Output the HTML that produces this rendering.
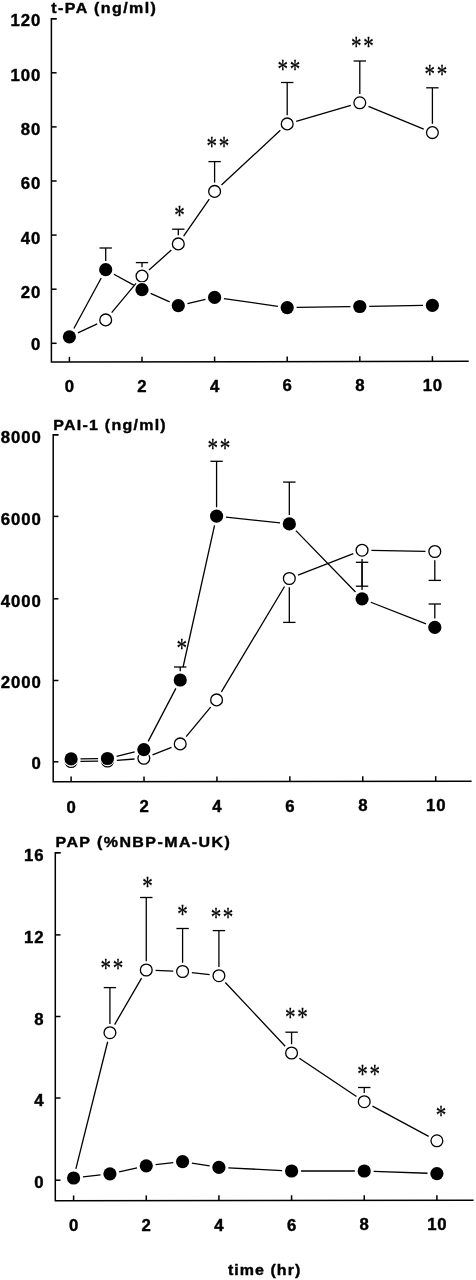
<!DOCTYPE html><html><head><meta charset="utf-8"><title>t-PA, PAI-1 and PAP time course</title><style>html,body{margin:0;padding:0;background:#fff}svg{display:block}</style></head><body>
<svg width="476" height="1280" viewBox="0 0 476 1280">
<rect width="100%" height="100%" fill="#fff"/>
<g>
<path d="M56.60,18.70H51.40V362.10L468.70,361.30" fill="none" stroke="#000" stroke-width="1.5" stroke-linejoin="miter"/>
<line x1="51.40" y1="343.30" x2="56.60" y2="343.30" stroke="#000" stroke-width="1.5"/>
<text transform="translate(41.24,350.40) scale(1.04,1)" font-family='"Liberation Sans", sans-serif' font-size="16.1" font-weight="bold" text-anchor="end" stroke="#000" stroke-width="0.4" letter-spacing="0.9">0</text>
<line x1="51.40" y1="289.20" x2="56.60" y2="289.20" stroke="#000" stroke-width="1.5"/>
<text transform="translate(41.24,297.80) scale(1.04,1)" font-family='"Liberation Sans", sans-serif' font-size="16.1" font-weight="bold" text-anchor="end" stroke="#000" stroke-width="0.4" letter-spacing="0.9">20</text>
<line x1="51.40" y1="235.10" x2="56.60" y2="235.10" stroke="#000" stroke-width="1.5"/>
<text transform="translate(41.24,243.60) scale(1.04,1)" font-family='"Liberation Sans", sans-serif' font-size="16.1" font-weight="bold" text-anchor="end" stroke="#000" stroke-width="0.4" letter-spacing="0.9">40</text>
<line x1="51.40" y1="181.00" x2="56.60" y2="181.00" stroke="#000" stroke-width="1.5"/>
<text transform="translate(41.24,189.10) scale(1.04,1)" font-family='"Liberation Sans", sans-serif' font-size="16.1" font-weight="bold" text-anchor="end" stroke="#000" stroke-width="0.4" letter-spacing="0.9">60</text>
<line x1="51.40" y1="126.90" x2="56.60" y2="126.90" stroke="#000" stroke-width="1.5"/>
<text transform="translate(41.24,135.00) scale(1.04,1)" font-family='"Liberation Sans", sans-serif' font-size="16.1" font-weight="bold" text-anchor="end" stroke="#000" stroke-width="0.4" letter-spacing="0.9">80</text>
<line x1="51.40" y1="72.80" x2="56.60" y2="72.80" stroke="#000" stroke-width="1.5"/>
<text transform="translate(41.24,80.50) scale(1.04,1)" font-family='"Liberation Sans", sans-serif' font-size="16.1" font-weight="bold" text-anchor="end" stroke="#000" stroke-width="0.4" letter-spacing="0.9">100</text>
<line x1="51.40" y1="18.70" x2="56.60" y2="18.70" stroke="#000" stroke-width="1.5"/>
<text transform="translate(41.24,25.80) scale(1.04,1)" font-family='"Liberation Sans", sans-serif' font-size="16.1" font-weight="bold" text-anchor="end" stroke="#000" stroke-width="0.4" letter-spacing="0.9">120</text>
<line x1="69.40" y1="362.07" x2="69.40" y2="356.87" stroke="#000" stroke-width="1.5"/>
<text transform="translate(69.87,391.80) scale(1.04,1)" font-family='"Liberation Sans", sans-serif' font-size="16.1" font-weight="bold" text-anchor="middle" stroke="#000" stroke-width="0.4" letter-spacing="0.9">0</text>
<line x1="142.00" y1="361.93" x2="142.00" y2="356.73" stroke="#000" stroke-width="1.5"/>
<text transform="translate(142.47,391.66) scale(1.04,1)" font-family='"Liberation Sans", sans-serif' font-size="16.1" font-weight="bold" text-anchor="middle" stroke="#000" stroke-width="0.4" letter-spacing="0.9">2</text>
<line x1="214.60" y1="361.79" x2="214.60" y2="356.59" stroke="#000" stroke-width="1.5"/>
<text transform="translate(215.07,391.52) scale(1.04,1)" font-family='"Liberation Sans", sans-serif' font-size="16.1" font-weight="bold" text-anchor="middle" stroke="#000" stroke-width="0.4" letter-spacing="0.9">4</text>
<line x1="287.20" y1="361.65" x2="287.20" y2="356.45" stroke="#000" stroke-width="1.5"/>
<text transform="translate(287.67,391.38) scale(1.04,1)" font-family='"Liberation Sans", sans-serif' font-size="16.1" font-weight="bold" text-anchor="middle" stroke="#000" stroke-width="0.4" letter-spacing="0.9">6</text>
<line x1="359.80" y1="361.51" x2="359.80" y2="356.31" stroke="#000" stroke-width="1.5"/>
<text transform="translate(360.27,391.24) scale(1.04,1)" font-family='"Liberation Sans", sans-serif' font-size="16.1" font-weight="bold" text-anchor="middle" stroke="#000" stroke-width="0.4" letter-spacing="0.9">8</text>
<line x1="432.40" y1="361.37" x2="432.40" y2="356.17" stroke="#000" stroke-width="1.5"/>
<text transform="translate(432.87,391.10) scale(1.04,1)" font-family='"Liberation Sans", sans-serif' font-size="16.1" font-weight="bold" text-anchor="middle" stroke="#000" stroke-width="0.4" letter-spacing="0.9">10</text>
<text transform="translate(51.30,13.20) scale(1.08,1)" font-family='"Liberation Sans", sans-serif' font-size="14.8" font-weight="bold" text-anchor="start" stroke="#000" stroke-width="0.4" textLength="96.85" lengthAdjust="spacing">t-PA (ng/ml)</text>
<path d="M73.87,328.53L101.23,277.97M113.93,274.24L133.77,285.16M150.61,293.47L169.69,301.83M187.47,303.53L205.43,299.47M223.91,298.71L277.89,306.29M296.60,307.46L350.40,306.64M369.20,306.34L423.00,305.46" fill="none" stroke="#000" stroke-width="1.3"/>
<path d="M77.88,332.85L97.22,323.85M111.67,312.70L136.03,283.30M148.99,269.90L171.31,250.10M183.62,236.21L209.28,199.09M221.45,185.03L280.35,130.27M296.18,121.29L350.82,105.41M368.45,106.35L423.75,129.05" fill="none" stroke="#000" stroke-width="1.3"/>
<line x1="105.70" y1="260.90" x2="105.70" y2="248.00" stroke="#000" stroke-width="1.3"/>
<line x1="99.50" y1="248.00" x2="111.90" y2="248.00" stroke="#000" stroke-width="1.3"/>
<line x1="142.00" y1="267.35" x2="142.00" y2="262.60" stroke="#000" stroke-width="1.3"/>
<line x1="135.80" y1="262.60" x2="148.20" y2="262.60" stroke="#000" stroke-width="1.3"/>
<line x1="178.30" y1="235.15" x2="178.30" y2="229.20" stroke="#000" stroke-width="1.3"/>
<line x1="172.10" y1="229.20" x2="184.50" y2="229.20" stroke="#000" stroke-width="1.3"/>
<line x1="214.60" y1="182.65" x2="214.60" y2="161.60" stroke="#000" stroke-width="1.3"/>
<line x1="208.40" y1="161.60" x2="220.80" y2="161.60" stroke="#000" stroke-width="1.3"/>
<line x1="287.20" y1="115.15" x2="287.20" y2="82.50" stroke="#000" stroke-width="1.3"/>
<line x1="281.00" y1="82.50" x2="293.40" y2="82.50" stroke="#000" stroke-width="1.3"/>
<line x1="359.80" y1="94.05" x2="359.80" y2="61.00" stroke="#000" stroke-width="1.3"/>
<line x1="353.60" y1="61.00" x2="366.00" y2="61.00" stroke="#000" stroke-width="1.3"/>
<line x1="432.40" y1="123.85" x2="432.40" y2="87.80" stroke="#000" stroke-width="1.3"/>
<line x1="426.20" y1="87.80" x2="438.60" y2="87.80" stroke="#000" stroke-width="1.3"/>
<circle cx="69.40" cy="336.80" r="7.55" fill="#fff"/>
<circle cx="69.40" cy="336.80" r="5.90" fill="#fff" stroke="#000" stroke-width="1.3"/>
<circle cx="105.70" cy="319.90" r="7.55" fill="#fff"/>
<circle cx="105.70" cy="319.90" r="5.90" fill="#fff" stroke="#000" stroke-width="1.3"/>
<circle cx="142.00" cy="276.10" r="7.55" fill="#fff"/>
<circle cx="142.00" cy="276.10" r="5.90" fill="#fff" stroke="#000" stroke-width="1.3"/>
<circle cx="178.30" cy="243.90" r="7.55" fill="#fff"/>
<circle cx="178.30" cy="243.90" r="5.90" fill="#fff" stroke="#000" stroke-width="1.3"/>
<circle cx="214.60" cy="191.40" r="7.55" fill="#fff"/>
<circle cx="214.60" cy="191.40" r="5.90" fill="#fff" stroke="#000" stroke-width="1.3"/>
<circle cx="287.20" cy="123.90" r="7.55" fill="#fff"/>
<circle cx="287.20" cy="123.90" r="5.90" fill="#fff" stroke="#000" stroke-width="1.3"/>
<circle cx="359.80" cy="102.80" r="7.55" fill="#fff"/>
<circle cx="359.80" cy="102.80" r="5.90" fill="#fff" stroke="#000" stroke-width="1.3"/>
<circle cx="432.40" cy="132.60" r="7.55" fill="#fff"/>
<circle cx="432.40" cy="132.60" r="5.90" fill="#fff" stroke="#000" stroke-width="1.3"/>
<circle cx="69.40" cy="336.80" r="7.60" fill="#fff"/>
<circle cx="69.40" cy="336.80" r="6.60" fill="#000"/>
<circle cx="105.70" cy="269.70" r="7.60" fill="#fff"/>
<circle cx="105.70" cy="269.70" r="6.60" fill="#000"/>
<circle cx="142.00" cy="289.70" r="7.60" fill="#fff"/>
<circle cx="142.00" cy="289.70" r="6.60" fill="#000"/>
<circle cx="178.30" cy="305.60" r="7.60" fill="#fff"/>
<circle cx="178.30" cy="305.60" r="6.60" fill="#000"/>
<circle cx="214.60" cy="297.40" r="7.60" fill="#fff"/>
<circle cx="214.60" cy="297.40" r="6.60" fill="#000"/>
<circle cx="287.20" cy="307.60" r="7.60" fill="#fff"/>
<circle cx="287.20" cy="307.60" r="6.60" fill="#000"/>
<circle cx="359.80" cy="306.50" r="7.60" fill="#fff"/>
<circle cx="359.80" cy="306.50" r="6.60" fill="#000"/>
<circle cx="432.40" cy="305.30" r="7.60" fill="#fff"/>
<circle cx="432.40" cy="305.30" r="6.60" fill="#000"/>
<text transform="translate(179.40,223.69) scale(0.8,1)" x="0" font-family='"Liberation Serif", serif' font-size="26.3" text-anchor="middle" stroke="#000" stroke-width="0.25">*</text>
<text transform="translate(217.80,155.19) scale(0.8,1)" x="-7.62 7.62" font-family='"Liberation Serif", serif' font-size="26.3" text-anchor="middle" stroke="#000" stroke-width="0.25">**</text>
<text transform="translate(288.90,77.89) scale(0.8,1)" x="-7.62 7.62" font-family='"Liberation Serif", serif' font-size="26.3" text-anchor="middle" stroke="#000" stroke-width="0.25">**</text>
<text transform="translate(362.30,55.19) scale(0.8,1)" x="-7.62 7.62" font-family='"Liberation Serif", serif' font-size="26.3" text-anchor="middle" stroke="#000" stroke-width="0.25">**</text>
<text transform="translate(435.90,83.39) scale(0.8,1)" x="-7.62 7.62" font-family='"Liberation Serif", serif' font-size="26.3" text-anchor="middle" stroke="#000" stroke-width="0.25">**</text>
</g>
<g>
<path d="M58.40,434.80H53.20V781.80L471.60,781.30" fill="none" stroke="#000" stroke-width="1.5" stroke-linejoin="miter"/>
<line x1="53.20" y1="761.80" x2="58.40" y2="761.80" stroke="#000" stroke-width="1.5"/>
<text transform="translate(41.74,769.40) scale(1.04,1)" font-family='"Liberation Sans", sans-serif' font-size="16.1" font-weight="bold" text-anchor="end" stroke="#000" stroke-width="0.4" letter-spacing="0.9">0</text>
<line x1="53.20" y1="680.50" x2="58.40" y2="680.50" stroke="#000" stroke-width="1.5"/>
<text transform="translate(41.74,688.15) scale(1.04,1)" font-family='"Liberation Sans", sans-serif' font-size="16.1" font-weight="bold" text-anchor="end" stroke="#000" stroke-width="0.4" letter-spacing="0.9">2000</text>
<line x1="53.20" y1="598.80" x2="58.40" y2="598.80" stroke="#000" stroke-width="1.5"/>
<text transform="translate(41.74,606.80) scale(1.04,1)" font-family='"Liberation Sans", sans-serif' font-size="16.1" font-weight="bold" text-anchor="end" stroke="#000" stroke-width="0.4" letter-spacing="0.9">4000</text>
<line x1="53.20" y1="516.40" x2="58.40" y2="516.40" stroke="#000" stroke-width="1.5"/>
<text transform="translate(41.74,525.00) scale(1.04,1)" font-family='"Liberation Sans", sans-serif' font-size="16.1" font-weight="bold" text-anchor="end" stroke="#000" stroke-width="0.4" letter-spacing="0.9">6000</text>
<line x1="53.20" y1="434.80" x2="58.40" y2="434.80" stroke="#000" stroke-width="1.5"/>
<text transform="translate(41.74,442.50) scale(1.04,1)" font-family='"Liberation Sans", sans-serif' font-size="16.1" font-weight="bold" text-anchor="end" stroke="#000" stroke-width="0.4" letter-spacing="0.9">8000</text>
<line x1="71.10" y1="781.78" x2="71.10" y2="776.58" stroke="#000" stroke-width="1.5"/>
<text transform="translate(71.57,812.55) scale(1.04,1)" font-family='"Liberation Sans", sans-serif' font-size="16.1" font-weight="bold" text-anchor="middle" stroke="#000" stroke-width="0.4" letter-spacing="0.9">0</text>
<line x1="144.02" y1="781.69" x2="144.02" y2="776.49" stroke="#000" stroke-width="1.5"/>
<text transform="translate(144.49,812.27) scale(1.04,1)" font-family='"Liberation Sans", sans-serif' font-size="16.1" font-weight="bold" text-anchor="middle" stroke="#000" stroke-width="0.4" letter-spacing="0.9">2</text>
<line x1="216.94" y1="781.60" x2="216.94" y2="776.40" stroke="#000" stroke-width="1.5"/>
<text transform="translate(217.41,811.99) scale(1.04,1)" font-family='"Liberation Sans", sans-serif' font-size="16.1" font-weight="bold" text-anchor="middle" stroke="#000" stroke-width="0.4" letter-spacing="0.9">4</text>
<line x1="289.86" y1="781.52" x2="289.86" y2="776.32" stroke="#000" stroke-width="1.5"/>
<text transform="translate(290.33,811.71) scale(1.04,1)" font-family='"Liberation Sans", sans-serif' font-size="16.1" font-weight="bold" text-anchor="middle" stroke="#000" stroke-width="0.4" letter-spacing="0.9">6</text>
<line x1="362.78" y1="781.43" x2="362.78" y2="776.23" stroke="#000" stroke-width="1.5"/>
<text transform="translate(363.25,811.43) scale(1.04,1)" font-family='"Liberation Sans", sans-serif' font-size="16.1" font-weight="bold" text-anchor="middle" stroke="#000" stroke-width="0.4" letter-spacing="0.9">8</text>
<line x1="435.70" y1="781.34" x2="435.70" y2="776.14" stroke="#000" stroke-width="1.5"/>
<text transform="translate(436.17,811.15) scale(1.04,1)" font-family='"Liberation Sans", sans-serif' font-size="16.1" font-weight="bold" text-anchor="middle" stroke="#000" stroke-width="0.4" letter-spacing="0.9">10</text>
<text transform="translate(53.20,429.80) scale(1.08,1)" font-family='"Liberation Sans", sans-serif' font-size="14.8" font-weight="bold" text-anchor="start" stroke="#000" stroke-width="0.4" textLength="104.17" lengthAdjust="spacing">PAI-1 (ng/ml)</text>
<path d="M80.50,758.80L98.07,758.60M116.61,756.29L134.70,751.91M148.19,741.37L175.86,688.33M183.09,667.00L214.54,525.28M225.93,517.10L279.97,522.90M295.87,530.64L355.51,592.06M370.81,602.24L426.05,623.96" fill="none" stroke="#000" stroke-width="1.3"/>
<path d="M80.45,761.37L98.12,761.13M116.79,760.31L134.52,758.99M152.53,754.86L171.52,747.34M186.17,736.69L210.62,707.11M221.39,691.88L284.51,586.52M298.03,575.11L353.35,553.59M371.41,550.37L425.45,551.33" fill="none" stroke="#000" stroke-width="1.3"/>
<line x1="180.21" y1="671.20" x2="180.21" y2="667.00" stroke="#000" stroke-width="1.3"/>
<line x1="174.01" y1="667.00" x2="186.41" y2="667.00" stroke="#000" stroke-width="1.3"/>
<line x1="216.58" y1="507.30" x2="216.58" y2="461.30" stroke="#000" stroke-width="1.3"/>
<line x1="210.38" y1="461.30" x2="222.78" y2="461.30" stroke="#000" stroke-width="1.3"/>
<line x1="289.32" y1="515.10" x2="289.32" y2="482.10" stroke="#000" stroke-width="1.3"/>
<line x1="283.12" y1="482.10" x2="295.52" y2="482.10" stroke="#000" stroke-width="1.3"/>
<line x1="362.06" y1="590.00" x2="362.06" y2="562.30" stroke="#000" stroke-width="1.3"/>
<line x1="355.86" y1="562.30" x2="368.26" y2="562.30" stroke="#000" stroke-width="1.3"/>
<line x1="434.80" y1="618.60" x2="434.80" y2="604.00" stroke="#000" stroke-width="1.3"/>
<line x1="428.60" y1="604.00" x2="441.00" y2="604.00" stroke="#000" stroke-width="1.3"/>
<line x1="289.32" y1="587.25" x2="289.32" y2="622.40" stroke="#000" stroke-width="1.3"/>
<line x1="283.12" y1="622.40" x2="295.52" y2="622.40" stroke="#000" stroke-width="1.3"/>
<line x1="362.06" y1="558.95" x2="362.06" y2="586.20" stroke="#000" stroke-width="1.3"/>
<line x1="355.86" y1="586.20" x2="368.26" y2="586.20" stroke="#000" stroke-width="1.3"/>
<line x1="434.80" y1="560.25" x2="434.80" y2="580.40" stroke="#000" stroke-width="1.3"/>
<line x1="428.60" y1="580.40" x2="441.00" y2="580.40" stroke="#000" stroke-width="1.3"/>
<circle cx="71.10" cy="761.50" r="7.55" fill="#fff"/>
<circle cx="71.10" cy="761.50" r="5.90" fill="#fff" stroke="#000" stroke-width="1.3"/>
<circle cx="107.47" cy="761.00" r="7.55" fill="#fff"/>
<circle cx="107.47" cy="761.00" r="5.90" fill="#fff" stroke="#000" stroke-width="1.3"/>
<circle cx="143.84" cy="758.30" r="7.55" fill="#fff"/>
<circle cx="143.84" cy="758.30" r="5.90" fill="#fff" stroke="#000" stroke-width="1.3"/>
<circle cx="180.21" cy="743.90" r="7.55" fill="#fff"/>
<circle cx="180.21" cy="743.90" r="5.90" fill="#fff" stroke="#000" stroke-width="1.3"/>
<circle cx="216.58" cy="699.90" r="7.55" fill="#fff"/>
<circle cx="216.58" cy="699.90" r="5.90" fill="#fff" stroke="#000" stroke-width="1.3"/>
<circle cx="289.32" cy="578.50" r="7.55" fill="#fff"/>
<circle cx="289.32" cy="578.50" r="5.90" fill="#fff" stroke="#000" stroke-width="1.3"/>
<circle cx="362.06" cy="550.20" r="7.55" fill="#fff"/>
<circle cx="362.06" cy="550.20" r="5.90" fill="#fff" stroke="#000" stroke-width="1.3"/>
<circle cx="434.80" cy="551.50" r="7.55" fill="#fff"/>
<circle cx="434.80" cy="551.50" r="5.90" fill="#fff" stroke="#000" stroke-width="1.3"/>
<circle cx="71.10" cy="758.90" r="7.60" fill="#fff"/>
<circle cx="71.10" cy="758.90" r="6.60" fill="#000"/>
<circle cx="107.47" cy="758.50" r="7.60" fill="#fff"/>
<circle cx="107.47" cy="758.50" r="6.60" fill="#000"/>
<circle cx="143.84" cy="749.70" r="7.60" fill="#fff"/>
<circle cx="143.84" cy="749.70" r="6.60" fill="#000"/>
<circle cx="180.21" cy="680.00" r="7.60" fill="#fff"/>
<circle cx="180.21" cy="680.00" r="6.60" fill="#000"/>
<circle cx="216.58" cy="516.10" r="7.60" fill="#fff"/>
<circle cx="216.58" cy="516.10" r="6.60" fill="#000"/>
<circle cx="289.32" cy="523.90" r="7.60" fill="#fff"/>
<circle cx="289.32" cy="523.90" r="6.60" fill="#000"/>
<circle cx="362.06" cy="598.80" r="7.60" fill="#fff"/>
<circle cx="362.06" cy="598.80" r="6.60" fill="#000"/>
<circle cx="434.80" cy="627.40" r="7.60" fill="#fff"/>
<circle cx="434.80" cy="627.40" r="6.60" fill="#000"/>
<text transform="translate(181.70,657.29) scale(0.8,1)" x="0" font-family='"Liberation Serif", serif' font-size="26.3" text-anchor="middle" stroke="#000" stroke-width="0.25">*</text>
<text transform="translate(218.90,457.29) scale(0.8,1)" x="-7.62 7.62" font-family='"Liberation Serif", serif' font-size="26.3" text-anchor="middle" stroke="#000" stroke-width="0.25">**</text>
</g>
<g>
<path d="M60.50,852.70H55.30V1200.70L473.60,1200.30" fill="none" stroke="#000" stroke-width="1.5" stroke-linejoin="miter"/>
<line x1="55.30" y1="1180.20" x2="60.50" y2="1180.20" stroke="#000" stroke-width="1.5"/>
<text transform="translate(44.54,1187.90) scale(1.04,1)" font-family='"Liberation Sans", sans-serif' font-size="16.1" font-weight="bold" text-anchor="end" stroke="#000" stroke-width="0.4" letter-spacing="0.9">0</text>
<line x1="55.30" y1="1098.00" x2="60.50" y2="1098.00" stroke="#000" stroke-width="1.5"/>
<text transform="translate(44.54,1106.45) scale(1.04,1)" font-family='"Liberation Sans", sans-serif' font-size="16.1" font-weight="bold" text-anchor="end" stroke="#000" stroke-width="0.4" letter-spacing="0.9">4</text>
<line x1="55.30" y1="1016.50" x2="60.50" y2="1016.50" stroke="#000" stroke-width="1.5"/>
<text transform="translate(44.54,1025.10) scale(1.04,1)" font-family='"Liberation Sans", sans-serif' font-size="16.1" font-weight="bold" text-anchor="end" stroke="#000" stroke-width="0.4" letter-spacing="0.9">8</text>
<line x1="55.30" y1="934.90" x2="60.50" y2="934.90" stroke="#000" stroke-width="1.5"/>
<text transform="translate(44.54,942.80) scale(1.04,1)" font-family='"Liberation Sans", sans-serif' font-size="16.1" font-weight="bold" text-anchor="end" stroke="#000" stroke-width="0.4" letter-spacing="0.9">12</text>
<line x1="55.30" y1="852.70" x2="60.50" y2="852.70" stroke="#000" stroke-width="1.5"/>
<text transform="translate(44.54,860.55) scale(1.04,1)" font-family='"Liberation Sans", sans-serif' font-size="16.1" font-weight="bold" text-anchor="end" stroke="#000" stroke-width="0.4" letter-spacing="0.9">16</text>
<line x1="73.60" y1="1200.68" x2="73.60" y2="1195.48" stroke="#000" stroke-width="1.5"/>
<text transform="translate(74.07,1231.40) scale(1.04,1)" font-family='"Liberation Sans", sans-serif' font-size="16.1" font-weight="bold" text-anchor="middle" stroke="#000" stroke-width="0.4" letter-spacing="0.9">0</text>
<line x1="146.26" y1="1200.61" x2="146.26" y2="1195.41" stroke="#000" stroke-width="1.5"/>
<text transform="translate(146.73,1231.17) scale(1.04,1)" font-family='"Liberation Sans", sans-serif' font-size="16.1" font-weight="bold" text-anchor="middle" stroke="#000" stroke-width="0.4" letter-spacing="0.9">2</text>
<line x1="218.92" y1="1200.54" x2="218.92" y2="1195.34" stroke="#000" stroke-width="1.5"/>
<text transform="translate(219.39,1230.94) scale(1.04,1)" font-family='"Liberation Sans", sans-serif' font-size="16.1" font-weight="bold" text-anchor="middle" stroke="#000" stroke-width="0.4" letter-spacing="0.9">4</text>
<line x1="291.58" y1="1200.47" x2="291.58" y2="1195.27" stroke="#000" stroke-width="1.5"/>
<text transform="translate(292.05,1230.71) scale(1.04,1)" font-family='"Liberation Sans", sans-serif' font-size="16.1" font-weight="bold" text-anchor="middle" stroke="#000" stroke-width="0.4" letter-spacing="0.9">6</text>
<line x1="364.24" y1="1200.40" x2="364.24" y2="1195.20" stroke="#000" stroke-width="1.5"/>
<text transform="translate(364.71,1230.48) scale(1.04,1)" font-family='"Liberation Sans", sans-serif' font-size="16.1" font-weight="bold" text-anchor="middle" stroke="#000" stroke-width="0.4" letter-spacing="0.9">8</text>
<line x1="436.90" y1="1200.34" x2="436.90" y2="1195.14" stroke="#000" stroke-width="1.5"/>
<text transform="translate(437.37,1230.25) scale(1.04,1)" font-family='"Liberation Sans", sans-serif' font-size="16.1" font-weight="bold" text-anchor="middle" stroke="#000" stroke-width="0.4" letter-spacing="0.9">10</text>
<text transform="translate(55.50,846.80) scale(1.08,1)" font-family='"Liberation Sans", sans-serif' font-size="14.8" font-weight="bold" text-anchor="start" stroke="#000" stroke-width="0.4" textLength="161.48" lengthAdjust="spacing">PAP (%NBP-MA-UK)</text>
<path d="M82.94,1176.92L100.59,1174.88M119.11,1171.78L137.08,1167.82M155.60,1164.72L173.25,1162.68M191.87,1163.08L209.64,1165.92M228.31,1167.87L282.19,1170.53M300.98,1171.00L354.84,1171.00M373.63,1171.34L427.51,1173.26" fill="none" stroke="#000" stroke-width="1.3"/>
<path d="M75.87,1168.93L107.66,1041.77M114.62,1024.61L141.57,978.09M155.60,970.39L173.25,971.11M191.88,972.57L209.63,974.63M225.32,982.51L285.18,1046.19M299.35,1058.21L356.47,1096.49M372.47,1106.13L428.67,1136.37" fill="none" stroke="#000" stroke-width="1.3"/>
<line x1="109.93" y1="1023.95" x2="109.93" y2="987.60" stroke="#000" stroke-width="1.3"/>
<line x1="103.73" y1="987.60" x2="116.13" y2="987.60" stroke="#000" stroke-width="1.3"/>
<line x1="146.26" y1="961.25" x2="146.26" y2="897.50" stroke="#000" stroke-width="1.3"/>
<line x1="140.06" y1="897.50" x2="152.46" y2="897.50" stroke="#000" stroke-width="1.3"/>
<line x1="182.59" y1="962.75" x2="182.59" y2="928.50" stroke="#000" stroke-width="1.3"/>
<line x1="176.39" y1="928.50" x2="188.79" y2="928.50" stroke="#000" stroke-width="1.3"/>
<line x1="218.92" y1="966.95" x2="218.92" y2="930.60" stroke="#000" stroke-width="1.3"/>
<line x1="212.72" y1="930.60" x2="225.12" y2="930.60" stroke="#000" stroke-width="1.3"/>
<line x1="291.58" y1="1044.25" x2="291.58" y2="1032.20" stroke="#000" stroke-width="1.3"/>
<line x1="285.38" y1="1032.20" x2="297.78" y2="1032.20" stroke="#000" stroke-width="1.3"/>
<line x1="364.24" y1="1092.95" x2="364.24" y2="1087.50" stroke="#000" stroke-width="1.3"/>
<line x1="358.04" y1="1087.50" x2="370.44" y2="1087.50" stroke="#000" stroke-width="1.3"/>
<circle cx="73.60" cy="1178.00" r="7.55" fill="#fff"/>
<circle cx="73.60" cy="1178.00" r="5.90" fill="#fff" stroke="#000" stroke-width="1.3"/>
<circle cx="109.93" cy="1032.70" r="7.55" fill="#fff"/>
<circle cx="109.93" cy="1032.70" r="5.90" fill="#fff" stroke="#000" stroke-width="1.3"/>
<circle cx="146.26" cy="970.00" r="7.55" fill="#fff"/>
<circle cx="146.26" cy="970.00" r="5.90" fill="#fff" stroke="#000" stroke-width="1.3"/>
<circle cx="182.59" cy="971.50" r="7.55" fill="#fff"/>
<circle cx="182.59" cy="971.50" r="5.90" fill="#fff" stroke="#000" stroke-width="1.3"/>
<circle cx="218.92" cy="975.70" r="7.55" fill="#fff"/>
<circle cx="218.92" cy="975.70" r="5.90" fill="#fff" stroke="#000" stroke-width="1.3"/>
<circle cx="291.58" cy="1053.00" r="7.55" fill="#fff"/>
<circle cx="291.58" cy="1053.00" r="5.90" fill="#fff" stroke="#000" stroke-width="1.3"/>
<circle cx="364.24" cy="1101.70" r="7.55" fill="#fff"/>
<circle cx="364.24" cy="1101.70" r="5.90" fill="#fff" stroke="#000" stroke-width="1.3"/>
<circle cx="436.90" cy="1140.80" r="7.55" fill="#fff"/>
<circle cx="436.90" cy="1140.80" r="5.90" fill="#fff" stroke="#000" stroke-width="1.3"/>
<circle cx="73.60" cy="1178.00" r="7.60" fill="#fff"/>
<circle cx="73.60" cy="1178.00" r="6.60" fill="#000"/>
<circle cx="109.93" cy="1173.80" r="7.60" fill="#fff"/>
<circle cx="109.93" cy="1173.80" r="6.60" fill="#000"/>
<circle cx="146.26" cy="1165.80" r="7.60" fill="#fff"/>
<circle cx="146.26" cy="1165.80" r="6.60" fill="#000"/>
<circle cx="182.59" cy="1161.60" r="7.60" fill="#fff"/>
<circle cx="182.59" cy="1161.60" r="6.60" fill="#000"/>
<circle cx="218.92" cy="1167.40" r="7.60" fill="#fff"/>
<circle cx="218.92" cy="1167.40" r="6.60" fill="#000"/>
<circle cx="291.58" cy="1171.00" r="7.60" fill="#fff"/>
<circle cx="291.58" cy="1171.00" r="6.60" fill="#000"/>
<circle cx="364.24" cy="1171.00" r="7.60" fill="#fff"/>
<circle cx="364.24" cy="1171.00" r="6.60" fill="#000"/>
<circle cx="436.90" cy="1173.60" r="7.60" fill="#fff"/>
<circle cx="436.90" cy="1173.60" r="6.60" fill="#000"/>
<text transform="translate(111.80,977.09) scale(0.8,1)" x="-7.62 7.62" font-family='"Liberation Serif", serif' font-size="26.3" text-anchor="middle" stroke="#000" stroke-width="0.25">**</text>
<text transform="translate(147.40,894.89) scale(0.8,1)" x="0" font-family='"Liberation Serif", serif' font-size="26.3" text-anchor="middle" stroke="#000" stroke-width="0.25">*</text>
<text transform="translate(182.40,923.39) scale(0.8,1)" x="0" font-family='"Liberation Serif", serif' font-size="26.3" text-anchor="middle" stroke="#000" stroke-width="0.25">*</text>
<text transform="translate(222.00,925.79) scale(0.8,1)" x="-7.62 7.62" font-family='"Liberation Serif", serif' font-size="26.3" text-anchor="middle" stroke="#000" stroke-width="0.25">**</text>
<text transform="translate(296.30,1026.49) scale(0.8,1)" x="-7.62 7.62" font-family='"Liberation Serif", serif' font-size="26.3" text-anchor="middle" stroke="#000" stroke-width="0.25">**</text>
<text transform="translate(368.70,1082.59) scale(0.8,1)" x="-7.62 7.62" font-family='"Liberation Serif", serif' font-size="26.3" text-anchor="middle" stroke="#000" stroke-width="0.25">**</text>
<text transform="translate(440.90,1124.19) scale(0.8,1)" x="0" font-family='"Liberation Serif", serif' font-size="26.3" text-anchor="middle" stroke="#000" stroke-width="0.25">*</text>
</g>
<text transform="translate(227.90,1275.10) scale(1.08,1)" font-family='"Liberation Sans", sans-serif' font-size="14.8" font-weight="bold" text-anchor="start" stroke="#000" stroke-width="0.4" textLength="67.04" lengthAdjust="spacing">time (hr)</text>
</svg></body></html>
